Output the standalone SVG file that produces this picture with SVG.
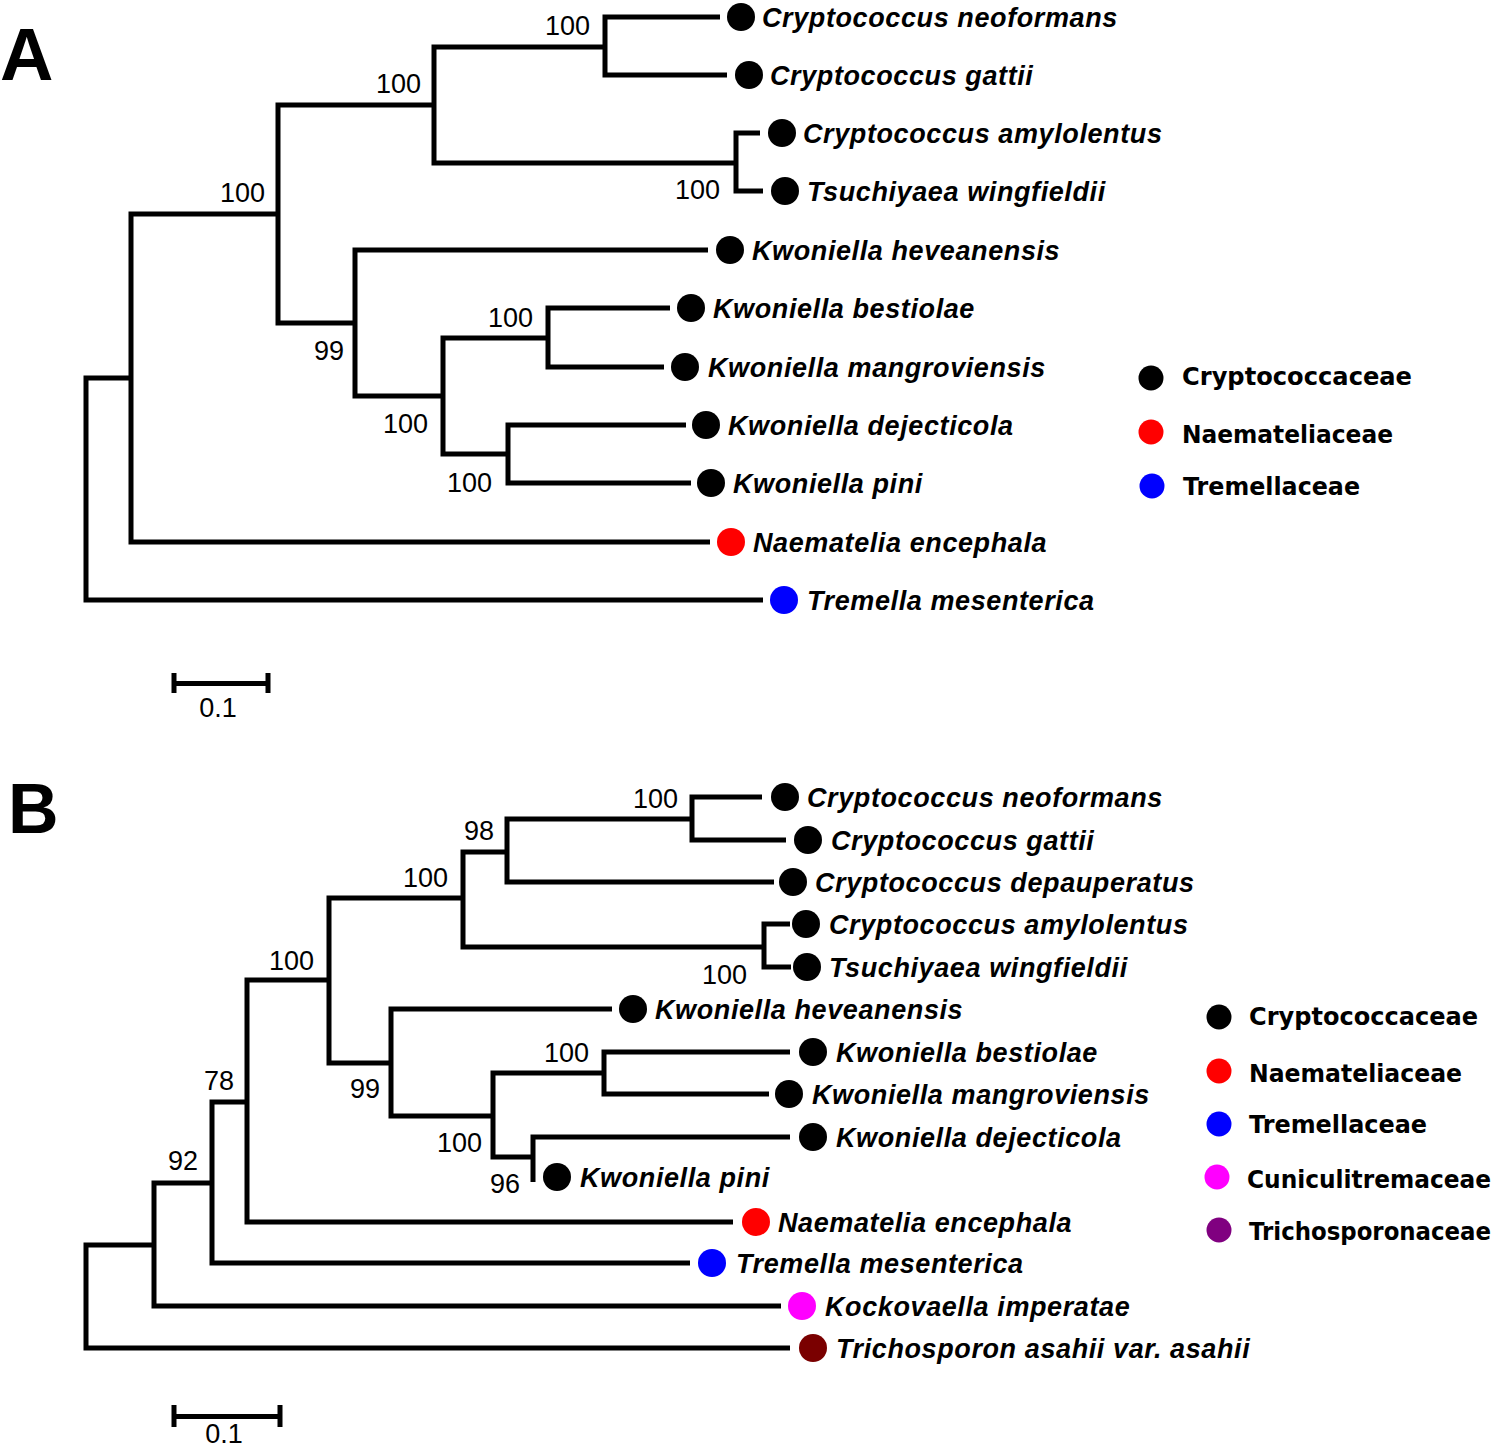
<svg xmlns="http://www.w3.org/2000/svg" width="1500" height="1449" viewBox="0 0 1500 1449">
<style>
.br{fill:none;stroke:#000;stroke-width:5;stroke-linejoin:miter;stroke-linecap:butt}
.sp{font-family:"Liberation Sans",Arial,sans-serif;font-weight:bold;font-style:italic;font-size:27px;letter-spacing:0.6px;fill:#000}
.bs{font-family:"Liberation Sans",Arial,sans-serif;font-size:27px;fill:#000;text-anchor:end}
.lg{font-family:"DejaVu Sans",sans-serif;font-weight:bold;font-size:24px;fill:#000}
.pl{font-family:"Liberation Sans",Arial,sans-serif;font-weight:bold;fill:#000}
.sc{font-family:"Liberation Sans",Arial,sans-serif;font-size:27px;fill:#000;text-anchor:middle}
</style>
<rect width="1500" height="1449" fill="#fff"/>
<text class="pl" x="0" y="80" font-size="74">A</text>
<text class="pl" x="8" y="833" font-size="70">B</text>

<g id="connectorsA">
<path class="br" d="M131 378 H86 V600 H763"/>
<path class="br" d="M278 214 H131 V542 H710"/>
<path class="br" d="M434 105 H278 V323 H355"/>
<path class="br" d="M605 47 H434 V163 H736"/>
<path class="br" d="M720 17 H605 V75 H727"/>
<path class="br" d="M760 133 H736 V191 H763"/>
<path class="br" d="M708 250 H355 V396 H443"/>
<path class="br" d="M548 338 H443 V454 H508"/>
<path class="br" d="M670 308 H548 V367 H664"/>
<path class="br" d="M686 425 H508 V483 H691"/>
<path class="br" d="M174 673 V693 M174 683.5 H268 M268 673 V693"/>
</g>
<g id="bootstrapA">
<text class="bs" x="590" y="35">100</text>
<text class="bs" x="421" y="93">100</text>
<text class="bs" x="720" y="199">100</text>
<text class="bs" x="265" y="202">100</text>
<text class="bs" x="344" y="360">99</text>
<text class="bs" x="428" y="433">100</text>
<text class="bs" x="533" y="327">100</text>
<text class="bs" x="492" y="492">100</text>
<text class="sc" x="218" y="717">0.1</text>
</g>
<g id="leavesA">
<g id="A-neoformans"><circle cx="741" cy="17" r="14"/><text class="sp" x="762" y="26.5">Cryptococcus neoformans</text></g>
<g id="A-gattii"><circle cx="749" cy="75" r="14"/><text class="sp" x="770" y="84.5">Cryptococcus gattii</text></g>
<g id="A-amylolentus"><circle cx="782" cy="133" r="14"/><text class="sp" x="803" y="142.5">Cryptococcus amylolentus</text></g>
<g id="A-wingfieldii"><circle cx="785" cy="191" r="14"/><text class="sp" x="807" y="200.5">Tsuchiyaea wingfieldii</text></g>
<g id="A-heveanensis"><circle cx="730" cy="250" r="14"/><text class="sp" x="752" y="259.5">Kwoniella heveanensis</text></g>
<g id="A-bestiolae"><circle cx="691" cy="308" r="14"/><text class="sp" x="713" y="317.5">Kwoniella bestiolae</text></g>
<g id="A-mangroviensis"><circle cx="685" cy="367" r="14"/><text class="sp" x="708" y="376.5">Kwoniella mangroviensis</text></g>
<g id="A-dejecticola"><circle cx="706" cy="425" r="14"/><text class="sp" x="728" y="434.5">Kwoniella dejecticola</text></g>
<g id="A-pini"><circle cx="711" cy="483" r="14"/><text class="sp" x="733" y="492.5">Kwoniella pini</text></g>
<g id="A-naematelia"><circle cx="731" cy="542" r="14" fill="#ff0000"/><text class="sp" x="753" y="551.5">Naematelia encephala</text></g>
<g id="A-tremella"><circle cx="784" cy="600" r="14" fill="#0000ff"/><text class="sp" x="807" y="609.5">Tremella mesenterica</text></g>
</g>
<g id="legendA">
<circle cx="1151" cy="378" r="12.5"/>
<text class="lg" x="1182" y="385" textLength="230" lengthAdjust="spacingAndGlyphs">Cryptococcaceae</text>
<circle cx="1151" cy="432" r="12.5" fill="#ff0000"/>
<text class="lg" x="1182" y="443" textLength="211" lengthAdjust="spacingAndGlyphs">Naemateliaceae</text>
<circle cx="1152" cy="486" r="12.5" fill="#0000ff"/>
<text class="lg" x="1183" y="495" textLength="177" lengthAdjust="spacingAndGlyphs">Tremellaceae</text>
</g>

<g id="connectorsB">
<path class="br" d="M154 1245 H86 V1348 H790"/>
<path class="br" d="M212 1183 H154 V1306 H781"/>
<path class="br" d="M247 1102 H212 V1263 H690"/>
<path class="br" d="M329 980 H247 V1222 H733"/>
<path class="br" d="M463 898 H329 V1063 H391"/>
<path class="br" d="M507 852 H463 V947 H764"/>
<path class="br" d="M692 819 H507 V882 H774"/>
<path class="br" d="M762 797 H692 V840 H786"/>
<path class="br" d="M790 924 H764 V967 H791"/>
<path class="br" d="M612 1009 H391 V1116 H493"/>
<path class="br" d="M604 1073 H493 V1157 H533"/>
<path class="br" d="M790 1052 H604 V1094 H769"/>
<path class="br" d="M790 1137 H533 V1182"/>
<path class="br" d="M174 1405 V1427 M174 1416.5 H280 M280 1405 V1427"/>
</g>
<g id="bootstrapB">
<text class="bs" x="678" y="808">100</text>
<text class="bs" x="494" y="840">98</text>
<text class="bs" x="448" y="887">100</text>
<text class="bs" x="747" y="984">100</text>
<text class="bs" x="314" y="970">100</text>
<text class="bs" x="380" y="1098">99</text>
<text class="bs" x="589" y="1062">100</text>
<text class="bs" x="482" y="1152">100</text>
<text class="bs" x="520" y="1193">96</text>
<text class="bs" x="234" y="1090">78</text>
<text class="bs" x="198" y="1170">92</text>
<text class="sc" x="224" y="1443">0.1</text>
</g>
<g id="leavesB">
<g id="B-neoformans"><circle cx="785" cy="797" r="14"/><text class="sp" x="807" y="806.5">Cryptococcus neoformans</text></g>
<g id="B-gattii"><circle cx="808" cy="840" r="14"/><text class="sp" x="831" y="849.5">Cryptococcus gattii</text></g>
<g id="B-depauperatus"><circle cx="793" cy="882" r="14"/><text class="sp" x="815" y="891.5">Cryptococcus depauperatus</text></g>
<g id="B-amylolentus"><circle cx="806" cy="924" r="14"/><text class="sp" x="829" y="933.5">Cryptococcus amylolentus</text></g>
<g id="B-wingfieldii"><circle cx="807" cy="967" r="14"/><text class="sp" x="829" y="976.5">Tsuchiyaea wingfieldii</text></g>
<g id="B-heveanensis"><circle cx="633" cy="1009" r="14"/><text class="sp" x="655" y="1018.5">Kwoniella heveanensis</text></g>
<g id="B-bestiolae"><circle cx="813" cy="1052" r="14"/><text class="sp" x="836" y="1061.5">Kwoniella bestiolae</text></g>
<g id="B-mangroviensis"><circle cx="789" cy="1094" r="14"/><text class="sp" x="812" y="1103.5">Kwoniella mangroviensis</text></g>
<g id="B-dejecticola"><circle cx="813" cy="1137" r="14"/><text class="sp" x="836" y="1146.5">Kwoniella dejecticola</text></g>
<g id="B-pini"><circle cx="557" cy="1177" r="14"/><text class="sp" x="580" y="1187">Kwoniella pini</text></g>
<g id="B-naematelia"><circle cx="756" cy="1222" r="14" fill="#ff0000"/><text class="sp" x="778" y="1231.5">Naematelia encephala</text></g>
<g id="B-tremella"><circle cx="712" cy="1263" r="14" fill="#0000ff"/><text class="sp" x="736" y="1272.5">Tremella mesenterica</text></g>
<g id="B-kockovaella"><circle cx="802" cy="1306" r="14" fill="#ff00ff"/><text class="sp" x="825" y="1315.5">Kockovaella imperatae</text></g>
<g id="B-trichosporon"><circle cx="813" cy="1348" r="14" fill="#7a0000"/><text class="sp" x="836" y="1357.5">Trichosporon asahii var. asahii</text></g>
</g>
<g id="legendB">
<circle cx="1219" cy="1017" r="12.5"/>
<text class="lg" x="1249" y="1025" textLength="229" lengthAdjust="spacingAndGlyphs">Cryptococcaceae</text>
<circle cx="1219" cy="1071" r="12.5" fill="#ff0000"/>
<text class="lg" x="1249" y="1082" textLength="213" lengthAdjust="spacingAndGlyphs">Naemateliaceae</text>
<circle cx="1219" cy="1124" r="12.5" fill="#0000ff"/>
<text class="lg" x="1249" y="1133" textLength="178" lengthAdjust="spacingAndGlyphs">Tremellaceae</text>
<circle cx="1217" cy="1177" r="12.5" fill="#ff00ff"/>
<text class="lg" x="1247" y="1188" textLength="244" lengthAdjust="spacingAndGlyphs">Cuniculitremaceae</text>
<circle cx="1219" cy="1230" r="12.5" fill="#800080"/>
<text class="lg" x="1249" y="1240" font-size="22.5" textLength="242" lengthAdjust="spacingAndGlyphs">Trichosporonaceae</text>
</g>
</svg>
